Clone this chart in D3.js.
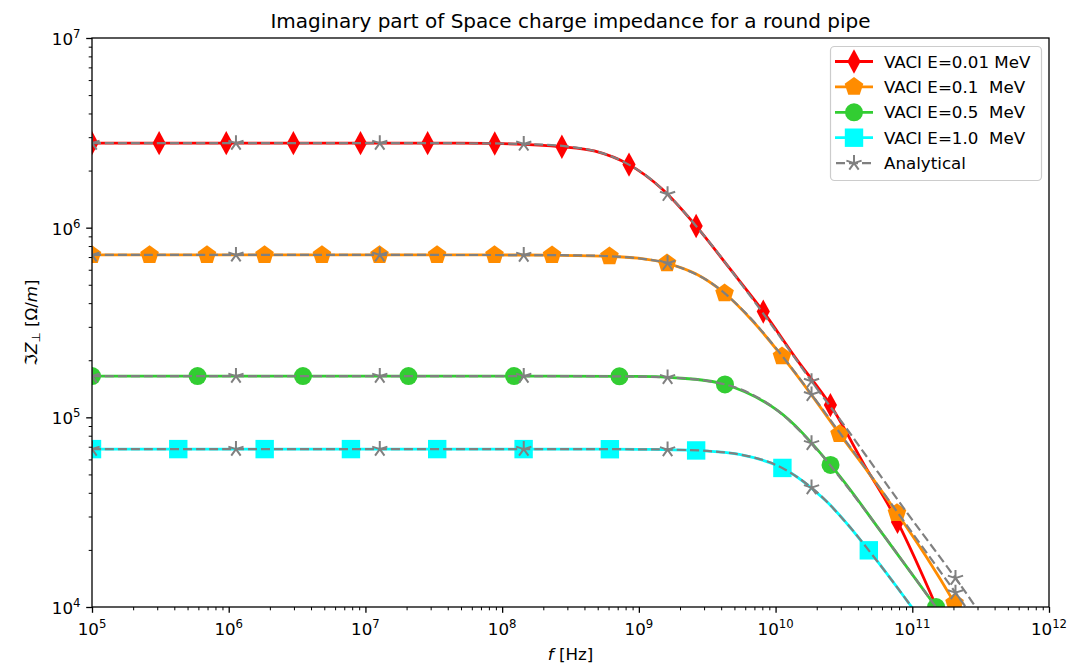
<!DOCTYPE html>
<html><head><meta charset="utf-8">
<script src="https://cdn.jsdelivr.net/npm/d3@7"></script>
<style>body{margin:0;background:#fff} text{font-family:"DejaVu Sans",sans-serif;fill:#000}</style>
</head><body><svg id="c" width="1088" height="669"></svg>
<script>
// ---- data: [log10(f/Hz), Im Z (Ohm/m), marker shown 1/0] ----
const redVACI = [[5,2.79e6,1],[5.491,2.79e6,1],[5.982,2.79e6,1],[6.473,2.79e6,1],[6.964,2.79e6,1],[7.455,2.79e6,1],[7.946,2.78e6,1],[8.437,2.67e6,1],[8.68,2.53e6,0],[8.928,2.15e6,1],[9.17,1.60e6,0],[9.419,1.02e6,1],[9.66,6.15e5,0],[9.910,3.61e5,1],[10.15,2.04e5,0],[10.401,1.16e5,1],[10.65,5.6e4,0],[10.892,2.81e4,1],[11.383,4.5e3,1]];
const orangeVACI = [[5,7.18e5,1],[5.421,7.18e5,1],[5.841,7.18e5,1],[6.262,7.18e5,1],[6.682,7.18e5,1],[7.103,7.18e5,1],[7.524,7.18e5,1],[7.944,7.18e5,1],[8.365,7.16e5,1],[8.785,7.07e5,1],[8.995,6.90e5,0],[9.206,6.49e5,1],[9.416,5.71e5,0],[9.627,4.51e5,1],[9.837,3.19e5,0],[10.047,2.10e5,1],[10.257,1.33e5,0],[10.468,8.17e4,1],[10.678,5.13e4,0],[10.888,3.13e4,1],[11.1,1.85e4,0],[11.309,1.05e4,1],[11.73,3.0e3,1]];
const greenVACI = [[5,1.65e5,1],[5.772,1.65e5,1],[6.543,1.65e5,1],[7.315,1.65e5,1],[8.087,1.65e5,1],[8.858,1.645e5,1],[9.244,1.62e5,0],[9.630,1.49e5,1],[10.016,1.084e5,0],[10.402,5.61e4,1],[10.788,2.40e4,0],[11.174,1.0e4,1],[11.56,4.1e3,0],[11.945,1.69e3,1]];
const cyanVACI = [[5,6.8e4,1],[5.631,6.8e4,1],[6.263,6.8e4,1],[6.894,6.8e4,1],[7.525,6.8e4,1],[8.157,6.8e4,1],[8.788,6.79e4,1],[9.104,6.77e4,0],[9.419,6.69e4,1],[9.735,6.38e4,0],[10.050,5.41e4,1],[10.366,3.64e4,0],[10.682,1.99e4,1],[10.997,9.97e3,0],[11.313,4.86e3,1]];

const analyticalExp    = [5, 6.053, 7.105, 8.158, 8.5, 8.75, 9.0, 9.21, 9.5, 9.75, 10.0, 10.263, 10.5, 10.75, 11.0, 11.316, 11.6, 12.0];
const analyticalMarked = [1, 1, 1, 1, 0, 0, 0, 1, 0, 0, 0, 1, 0, 0, 0, 1, 0, 0];
const analyticalRed    = [2.79e6,2.79e6,2.79e6,2.76e6,2.67e6,2.45e6,2.00e6,1.50e6,8.66e5,5.04e5,2.87e5,1.55e5,9.12e4,5.12e4,2.88e4,1.42e4,7.24e3,2.9e3];
const analyticalOrange = [7.18e5,7.18e5,7.18e5,7.17e5,7.15e5,7.09e5,6.89e5,6.49e5,5.28e5,3.74e5,2.33e5,1.32e5,7.74e4,4.37e4,2.46e4,1.19e4,6.19e3,2.5e3];
const analyticalGreen  = [1.65e5,1.65e5,1.65e5,1.65e5,1.65e5,1.647e5,1.64e5,1.624e5,1.557e5,1.40e5,1.106e5,7.29e4,4.53e4,2.62e4,1.485e4,7.2e3,3.75e3,1.5e3];
const analyticalCyan   = [6.8e4,6.8e4,6.8e4,6.8e4,6.8e4,6.8e4,6.78e4,6.76e4,6.65e4,6.35e4,5.62e4,4.26e4,2.87e4,1.72e4,9.9e3,4.82e3,2.5e3,1.0e3];

const legendLabels = ["VACI E=0.01 MeV","VACI E=0.1  MeV","VACI E=0.5  MeV","VACI E=1.0  MeV","Analytical"];
const xTickExp = [5,6,7,8,9,10,11,12];
const yTickExp = [4,5,6,7];
const titleText = "Imaginary part of Space charge impedance for a round pipe";

// ---- layout ----
const L=92, R=1049, T=38, B=607;
const svg = d3.select("#c");
const x = d3.scaleLog().domain([1e5,1e12]).range([L,R]);
const y = d3.scaleLog().domain([1e4,1e7]).range([B,T]);

svg.append("defs").append("clipPath").attr("id","clip")
  .append("rect").attr("x",L).attr("y",T).attr("width",R-L).attr("height",B-T);

// marker shapes
function diamondPath(){return "M0,-12.2L6.6,0L0,12.2L-6.6,0Z";}
function pentagonPath(r){let p=[];for(let i=0;i<5;i++){const a=(-90+72*i)*Math.PI/180;p.push([r*Math.cos(a),r*Math.sin(a)]);}return "M"+p.map(q=>q.join(",")).join("L")+"Z";}
function asteriskPath(r){let s="";for(let i=0;i<5;i++){const a=(90+72*i)*Math.PI/180;s+="M0,0L"+(r*Math.cos(a)).toFixed(2)+","+(-r*Math.sin(a)).toFixed(2);}return s;}

const series = [
  {data:redVACI, color:"#ff0000", shape:"diamond"},
  {data:orangeVACI, color:"#ff8c00", shape:"pentagon"},
  {data:greenVACI, color:"#32cd32", shape:"circle"},
  {data:cyanVACI, color:"#00ffff", shape:"square"}
];

function drawMarker(g, shape, color, cx, cy){
  if(shape==="diamond") g.append("path").attr("d",diamondPath()).attr("transform",`translate(${cx},${cy})`).attr("fill",color);
  else if(shape==="pentagon") g.append("path").attr("d",pentagonPath(9.8)).attr("transform",`translate(${cx},${cy})`).attr("fill",color);
  else if(shape==="circle") g.append("circle").attr("cx",cx).attr("cy",cy).attr("r",9).attr("fill",color);
  else if(shape==="square") g.append("rect").attr("x",cx-9.2).attr("y",cy-9.2).attr("width",18.4).attr("height",18.4).attr("fill",color);
  else if(shape==="star") g.append("path").attr("d",asteriskPath(8)).attr("transform",`translate(${cx},${cy})`).attr("stroke",color).attr("stroke-width",2).attr("fill","none");
}

const plot = svg.append("g").attr("clip-path","url(#clip)");
const line = d3.line().x(d=>x(Math.pow(10,d[0]))).y(d=>y(d[1])).curve(d3.curveCatmullRom.alpha(0.5));

series.forEach(s=>{
  const g = plot.append("g");
  g.append("path").attr("d",line(s.data)).attr("fill","none").attr("stroke",s.color).attr("stroke-width",2.8).attr("stroke-linejoin","round");
  s.data.filter(d=>d[2]===1).forEach(d=>drawMarker(g,s.shape,s.color,x(Math.pow(10,d[0])),y(d[1])));
});

[analyticalRed, analyticalOrange, analyticalGreen, analyticalCyan].forEach(vals=>{
  const pts = analyticalExp.map((e,i)=>[e,vals[i],analyticalMarked[i]]);
  const g = plot.append("g");
  g.append("path").attr("d",line(pts)).attr("fill","none").attr("stroke","#808080").attr("stroke-width",2.2).attr("stroke-dasharray","9,4");
  pts.filter(d=>d[2]===1).forEach(d=>drawMarker(g,"star","#808080",x(Math.pow(10,d[0])),y(d[1])));
});

// ---- axes ----
function minorVals(lo,hi){const v=[];for(let e=lo;e<hi;e++)for(let m=2;m<=9;m++)v.push(m*Math.pow(10,e));return v;}
const xMaj = xTickExp.map(e=>Math.pow(10,e));
const yMaj = yTickExp.map(e=>Math.pow(10,e));
const gx = svg.append("g").attr("transform",`translate(0,${B})`);
gx.call(d3.axisBottom(x).tickValues(xMaj).tickSize(5.8).tickFormat(""));
gx.call(g=>g.select(".domain").remove());
const gxm = svg.append("g").attr("transform",`translate(0,${B})`);
gxm.call(d3.axisBottom(x).tickValues(minorVals(5,12)).tickSize(3.3).tickFormat(""));
gxm.call(g=>g.select(".domain").remove());
const gy = svg.append("g").attr("transform",`translate(${L},0)`);
gy.call(d3.axisLeft(y).tickValues(yMaj).tickSize(5.8).tickFormat(""));
gy.call(g=>g.select(".domain").remove());
const gym = svg.append("g").attr("transform",`translate(${L},0)`);
gym.call(d3.axisLeft(y).tickValues(minorVals(4,7)).tickSize(3.3).tickFormat(""));
gym.call(g=>g.select(".domain").remove());
svg.selectAll(".tick line").attr("stroke","#000");
gx.selectAll(".tick line").attr("stroke-width",1.3);
gy.selectAll(".tick line").attr("stroke-width",1.3);
gxm.selectAll(".tick line").attr("stroke-width",1);
gym.selectAll(".tick line").attr("stroke-width",1);

svg.append("rect").attr("x",L).attr("y",T).attr("width",R-L).attr("height",B-T)
  .attr("fill","none").attr("stroke","#000").attr("stroke-width",1.3);

// tick labels
xTickExp.forEach(e=>{
  const t = svg.append("text").attr("x",x(Math.pow(10,e))).attr("y",635).attr("text-anchor","middle").attr("font-size",16.7);
  t.append("tspan").text("10");
  t.append("tspan").attr("dy",-7).attr("font-size",11.7).text(String(e));
});
yTickExp.forEach(e=>{
  const t = svg.append("text").attr("x",80.5).attr("y",y(Math.pow(10,e))+7).attr("text-anchor","end").attr("font-size",16.7);
  t.append("tspan").text("10");
  t.append("tspan").attr("dy",-7).attr("font-size",11.7).text(String(e));
});

// title and axis labels
svg.append("text").attr("x",(L+R)/2).attr("y",28).attr("text-anchor","middle").attr("font-size",20).text(titleText);
const xl = svg.append("text").attr("x",(L+R)/2).attr("y",660).attr("text-anchor","middle").attr("font-size",16.7);
xl.append("tspan").attr("font-style","italic").text("f");
xl.append("tspan").text(" [Hz]");
const yl = svg.append("text").attr("transform",`translate(37,${(T+B)/2}) rotate(-90)`).attr("text-anchor","middle").attr("font-size",16.7);
yl.append("tspan").text("ℑ");
yl.append("tspan").attr("font-style","italic").text("Z");
yl.append("tspan").attr("font-size",11.7).attr("dy",3).text("⊥");
yl.append("tspan").attr("dy",-3).text(" [Ω/");
yl.append("tspan").attr("font-style","italic").text("m");
yl.append("tspan").text("]");

// ---- legend ----
const lg = svg.append("g");
lg.append("rect").attr("x",830.5).attr("y",46.5).attr("width",211).attr("height",134).attr("rx",4)
  .attr("fill","#fff").attr("fill-opacity",0.8).attr("stroke","#cccccc").attr("stroke-width",1.2);
const shapes = ["diamond","pentagon","circle","square","star"];
const colors = ["#ff0000","#ff8c00","#32cd32","#00ffff","#808080"];
legendLabels.forEach((lab,i)=>{
  const cy = 61.5 + i*25.4;
  if(i<4){
    lg.append("line").attr("x1",835).attr("x2",873).attr("y1",cy).attr("y2",cy).attr("stroke",colors[i]).attr("stroke-width",2.8);
  } else {
    lg.append("line").attr("x1",835).attr("x2",873).attr("y1",cy).attr("y2",cy).attr("stroke",colors[i]).attr("stroke-width",2.2).attr("stroke-dasharray","9,4").attr("stroke-dashoffset",-1);
  }
  drawMarker(lg, shapes[i], colors[i], 854, cy);
  lg.append("text").attr("x",884).attr("y",cy+6).attr("font-size",16.7).attr("xml:space","preserve").style("white-space","pre").text(lab);
});
</script></body></html>
